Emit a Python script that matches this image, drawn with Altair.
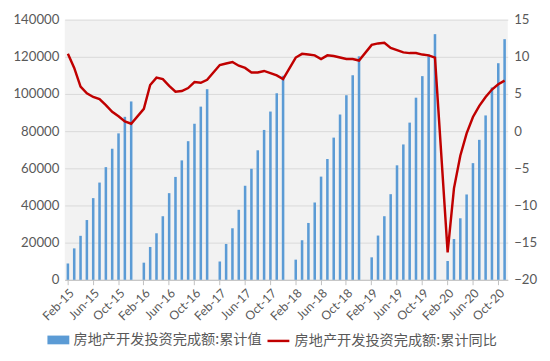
import altair as alt
import pandas as pd

# Monthly cumulative values (亿元), Feb..Dec each year (Jan not published)
val_2015 = [8786, 16914, 23669, 32167, 43955, 52322, 60625, 70535, 78801, 87702, 95979]
val_2016 = [9220, 17677, 25035, 34212, 46631, 55360, 64262, 74598, 83975, 93197, 102581]
val_2017 = [9854, 19292, 27732, 37674, 50610, 59761, 69694, 80644, 90544, 100387, 109799]
val_2018 = [10843, 21291, 30592, 41554, 55531, 65000, 76519, 88948, 99325, 110083, 120264]
val_2019 = [12090, 23803, 34217, 46075, 61609, 72843, 84589, 98008, 109603, 121265, 132194]
val_2020 = [10115, 21963, 33103, 45920, 62780, 75325, 88454, 103484, 116556, 129492]

# Cumulative YoY growth (%)
yoy_2015 = [10.4, 8.5, 6.0, 5.1, 4.6, 4.3, 3.5, 2.6, 2.0, 1.3, 1.0]
yoy_2016 = [3.0, 6.2, 7.2, 7.0, 6.1, 5.3, 5.4, 5.8, 6.6, 6.5, 6.9]
yoy_2017 = [8.9, 9.1, 9.3, 8.8, 8.5, 7.9, 7.9, 8.1, 7.8, 7.5, 7.0]
yoy_2018 = [9.9, 10.4, 10.3, 10.2, 9.7, 10.2, 10.1, 9.9, 9.7, 9.7, 9.5]
yoy_2019 = [11.6, 11.8, 11.9, 11.2, 10.9, 10.6, 10.5, 10.5, 10.3, 10.2, 9.9]
yoy_2020 = [-16.3, -7.7, -3.3, -0.3, 1.9, 3.4, 4.6, 5.6, 6.3, 6.8]

years = [2015, 2016, 2017, 2018, 2019, 2020]
vals = [val_2015, val_2016, val_2017, val_2018, val_2019, val_2020]
yoys = [yoy_2015, yoy_2016, yoy_2017, yoy_2018, yoy_2019, yoy_2020]

month_abbr = ["Jan", "Feb", "Mar", "Apr", "May", "Jun", "Jul", "Aug", "Sep", "Oct", "Nov", "Dec"]

def lab(y, m):
    return f"{month_abbr[m-1]}-{str(y)[2:]}"

# Full monthly category axis Feb-15 .. Nov-20 (January slots stay empty)
domain = []
for y in years:
    for m in range(1, 13):
        if (y == 2015 and m == 1) or (y == 2020 and m == 12):
            continue
        domain.append(lab(y, m))

tick_labels = domain[::4]

rows = []
order = 0
for y, vs, gs in zip(years, vals, yoys):
    for i, (v, g) in enumerate(zip(vs, gs)):
        rows.append({"month": lab(y, i + 2), "value": v, "yoy": g, "order": order})
        order += 1
df = pd.DataFrame(rows)

name_bar = "房地产开发投资完成额:累计值"
name_line = "房地产开发投资完成额:累计同比"
df["s_bar"] = name_bar
df["s_line"] = name_line

num_font = "Lato"
cjk_font = "Noto Sans CJK SC"
txt = "#595959"

x = alt.X("month:O", scale=alt.Scale(domain=domain, paddingInner=0, paddingOuter=0),
          sort=domain,
          axis=alt.Axis(title=None, values=tick_labels, labelAngle=-45, labelFont=num_font,
                        labelFontSize=12.5, labelColor=txt, domainColor="#bfbfbf",
                        tickColor="#bfbfbf", tickSize=5, labelPadding=2, grid=False))

bars = alt.Chart(df).mark_bar(size=2.6).encode(
    x=x,
    y=alt.Y("value:Q", scale=alt.Scale(domain=[0, 140000], nice=False),
            axis=alt.Axis(title=None, values=list(range(0, 140001, 20000)), grid=True,
                          gridColor="#d9d9d9", domain=False, ticks=False, format="d",
                          labelFont=num_font, labelFontSize=13.5, labelColor=txt, labelPadding=6)),
    color=alt.Color("s_bar:N", scale=alt.Scale(domain=[name_bar], range=["#5b9bd5"]),
                    legend=alt.Legend(title=None, orient="none", legendX=-18, legendY=316,
                                      symbolType="M-1,-0.4H1V0.4H-1Z",
                                      labelFont=cjk_font, labelFontSize=14.5, labelColor=txt,
                                      labelLimit=0, symbolSize=500, symbolStrokeWidth=0,
                                      labelOffset=4)),
)

line = alt.Chart(df).mark_line(strokeWidth=2.5).encode(
    x=x,
    y=alt.Y("yoy:Q", scale=alt.Scale(domain=[-20, 15], nice=False),
            axis=alt.Axis(title=None, orient="right", values=list(range(-20, 16, 5)), grid=False,
                          domain=False, ticks=False, labelFont=num_font, labelFontSize=13.5,
                          labelColor=txt, labelPadding=6)),
    order="order:Q",
    stroke=alt.Stroke("s_line:N", scale=alt.Scale(domain=[name_line], range=["#c00000"]),
                      legend=alt.Legend(title=None, orient="none", legendX=206, legendY=316,
                                        symbolType="stroke",
                                        labelFont=cjk_font, labelFontSize=14.5, labelColor=txt,
                                        labelLimit=0, symbolStrokeWidth=2.5, symbolSize=500,
                                        labelOffset=4)),
)

chart = alt.layer(bars, line).resolve_scale(y="independent", color="independent").properties(
    width=453, height=266, background="white",
    padding={"left": 5, "top": 1, "right": 5, "bottom": 5},
).configure_view(fill="#f2f2f2", stroke=None)

chart.save("out.html", embed_options={"renderer": "svg", "actions": False})
